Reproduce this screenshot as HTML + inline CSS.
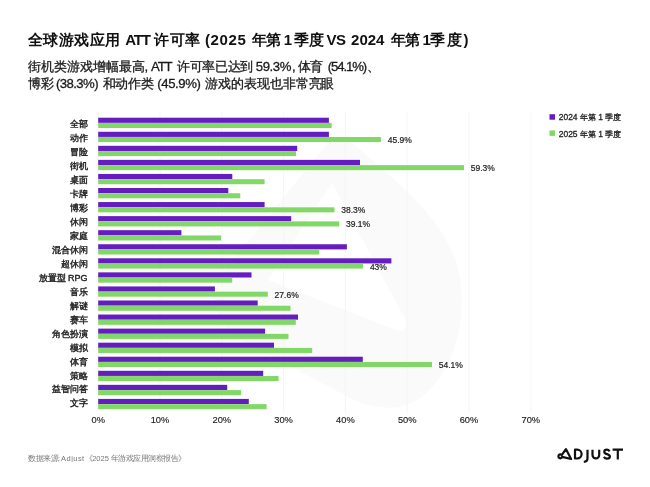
<!DOCTYPE html>
<html><head><meta charset="utf-8">
<style>
html,body{margin:0;padding:0;background:#fff;} .wrap{position:absolute;left:0;top:0;width:650px;height:487px;filter:blur(0.4px);}
body{width:650px;height:487px;overflow:hidden;position:relative;font-family:"Liberation Sans",sans-serif;color:#111;}
.t{position:absolute;left:0;top:30.3px;font-size:15px;font-weight:bold;white-space:nowrap;line-height:20px;} .t span{position:absolute;top:0;}
.s span{position:absolute;} .s{position:absolute;left:0;top:58.4px;font-size:13.15px;white-space:nowrap;line-height:17px;color:#1a1a1a;word-spacing:-1.2px;-webkit-text-stroke:0.3px #1a1a1a;}
svg{position:absolute;left:0;top:0;}
.cat{font-size:9px;fill:#222;stroke:#222;stroke-width:0.4px;}
.val{font-size:8.5px;fill:#222;stroke:#222;stroke-width:0.2px;}
.ax{font-size:9.3px;fill:#222;stroke:#222;stroke-width:0.15px;}
.leg{font-size:8.45px;fill:#222;stroke:#222;stroke-width:0.3px;}
.foot{position:absolute;left:27.7px;top:452.5px;font-size:15px;color:#777;white-space:nowrap;line-height:20px;transform:scale(0.5);transform-origin:0 0;}
</style></head><body><div class="wrap">
<svg width="650" height="487" viewBox="0 0 650 487">
<path fill-rule="evenodd" d="M322,150 C330,138 345,136 356,146 C400,185 455,225 461,285 C466,340 445,380 420,398 C400,412 375,410 350,398 L250,345 C215,328 205,300 225,270 L322,150 Z M332,183 L268,280 L396,330 C404,333 408,326 405,319 L332,183 Z" fill="#fafafa"/>
<line x1="98.20" y1="112" x2="98.20" y2="413" stroke="#f5f5f5" stroke-width="1"/>
<text x="98.20" y="423.2" class="ax" text-anchor="middle">0%</text>
<line x1="160.00" y1="112" x2="160.00" y2="413" stroke="#f5f5f5" stroke-width="1"/>
<text x="160.00" y="423.2" class="ax" text-anchor="middle">10%</text>
<line x1="221.80" y1="112" x2="221.80" y2="413" stroke="#f5f5f5" stroke-width="1"/>
<text x="221.80" y="423.2" class="ax" text-anchor="middle">20%</text>
<line x1="283.60" y1="112" x2="283.60" y2="413" stroke="#f5f5f5" stroke-width="1"/>
<text x="283.60" y="423.2" class="ax" text-anchor="middle">30%</text>
<line x1="345.40" y1="112" x2="345.40" y2="413" stroke="#f5f5f5" stroke-width="1"/>
<text x="345.40" y="423.2" class="ax" text-anchor="middle">40%</text>
<line x1="407.20" y1="112" x2="407.20" y2="413" stroke="#f5f5f5" stroke-width="1"/>
<text x="407.20" y="423.2" class="ax" text-anchor="middle">50%</text>
<line x1="469.00" y1="112" x2="469.00" y2="413" stroke="#f5f5f5" stroke-width="1"/>
<text x="469.00" y="423.2" class="ax" text-anchor="middle">60%</text>
<line x1="530.80" y1="112" x2="530.80" y2="413" stroke="#f5f5f5" stroke-width="1"/>
<text x="530.80" y="423.2" class="ax" text-anchor="middle">70%</text>
<rect x="98.2" y="117.70" width="230.70" height="5.15" fill="#661dbf"/>
<rect x="98.2" y="122.95" width="233.50" height="5.050000000000001" fill="#82d866"/>
<text x="87.6" y="127.40" class="cat" text-anchor="end">全部</text>
<rect x="98.2" y="131.76" width="230.70" height="5.15" fill="#661dbf"/>
<rect x="98.2" y="137.01" width="282.70" height="5.050000000000001" fill="#82d866"/>
<text x="87.6" y="141.35" class="cat" text-anchor="end">动作</text>
<text x="387.70" y="143.06" class="val">45.9%</text>
<rect x="98.2" y="145.82" width="199.00" height="5.15" fill="#661dbf"/>
<rect x="98.2" y="151.07" width="197.80" height="5.050000000000001" fill="#82d866"/>
<text x="87.6" y="155.30" class="cat" text-anchor="end">冒险</text>
<rect x="98.2" y="159.88" width="261.80" height="5.15" fill="#661dbf"/>
<rect x="98.2" y="165.13" width="365.80" height="5.050000000000001" fill="#82d866"/>
<text x="87.6" y="169.25" class="cat" text-anchor="end">街机</text>
<text x="470.80" y="171.18" class="val">59.3%</text>
<rect x="98.2" y="173.94" width="134.10" height="5.15" fill="#661dbf"/>
<rect x="98.2" y="179.19" width="166.40" height="5.050000000000001" fill="#82d866"/>
<text x="87.6" y="183.20" class="cat" text-anchor="end">桌面</text>
<rect x="98.2" y="188.00" width="130.10" height="5.15" fill="#661dbf"/>
<rect x="98.2" y="193.25" width="142.10" height="5.050000000000001" fill="#82d866"/>
<text x="87.6" y="197.15" class="cat" text-anchor="end">卡牌</text>
<rect x="98.2" y="202.06" width="166.40" height="5.15" fill="#661dbf"/>
<rect x="98.2" y="207.31" width="236.30" height="5.050000000000001" fill="#82d866"/>
<text x="87.6" y="211.10" class="cat" text-anchor="end">博彩</text>
<text x="341.30" y="213.36" class="val">38.3%</text>
<rect x="98.2" y="216.12" width="193.00" height="5.15" fill="#661dbf"/>
<rect x="98.2" y="221.37" width="241.00" height="5.050000000000001" fill="#82d866"/>
<text x="87.6" y="225.05" class="cat" text-anchor="end">休闲</text>
<text x="346.00" y="227.42" class="val">39.1%</text>
<rect x="98.2" y="230.18" width="83.20" height="5.15" fill="#661dbf"/>
<rect x="98.2" y="235.43" width="122.90" height="5.050000000000001" fill="#82d866"/>
<text x="87.6" y="239.00" class="cat" text-anchor="end">家庭</text>
<rect x="98.2" y="244.24" width="248.70" height="5.15" fill="#661dbf"/>
<rect x="98.2" y="249.49" width="221.00" height="5.050000000000001" fill="#82d866"/>
<text x="87.6" y="252.95" class="cat" text-anchor="end">混合休闲</text>
<rect x="98.2" y="258.30" width="293.20" height="5.15" fill="#661dbf"/>
<rect x="98.2" y="263.55" width="264.90" height="5.050000000000001" fill="#82d866"/>
<text x="87.6" y="266.90" class="cat" text-anchor="end">超休闲</text>
<text x="369.90" y="269.60" class="val">43%</text>
<rect x="98.2" y="272.36" width="153.30" height="5.15" fill="#661dbf"/>
<rect x="98.2" y="277.61" width="134.00" height="5.050000000000001" fill="#82d866"/>
<text x="87.6" y="280.85" class="cat" text-anchor="end">放置型 RPG</text>
<rect x="98.2" y="286.42" width="116.70" height="5.15" fill="#661dbf"/>
<rect x="98.2" y="291.67" width="169.60" height="5.050000000000001" fill="#82d866"/>
<text x="87.6" y="294.80" class="cat" text-anchor="end">音乐</text>
<text x="274.60" y="297.72" class="val">27.6%</text>
<rect x="98.2" y="300.48" width="159.50" height="5.15" fill="#661dbf"/>
<rect x="98.2" y="305.73" width="192.30" height="5.050000000000001" fill="#82d866"/>
<text x="87.6" y="308.75" class="cat" text-anchor="end">解谜</text>
<rect x="98.2" y="314.54" width="199.80" height="5.15" fill="#661dbf"/>
<rect x="98.2" y="319.79" width="197.60" height="5.050000000000001" fill="#82d866"/>
<text x="87.6" y="322.70" class="cat" text-anchor="end">赛车</text>
<rect x="98.2" y="328.60" width="166.90" height="5.15" fill="#661dbf"/>
<rect x="98.2" y="333.85" width="190.30" height="5.050000000000001" fill="#82d866"/>
<text x="87.6" y="336.65" class="cat" text-anchor="end">角色扮演</text>
<rect x="98.2" y="342.66" width="175.80" height="5.15" fill="#661dbf"/>
<rect x="98.2" y="347.91" width="214.00" height="5.050000000000001" fill="#82d866"/>
<text x="87.6" y="350.60" class="cat" text-anchor="end">模拟</text>
<rect x="98.2" y="356.72" width="264.60" height="5.15" fill="#661dbf"/>
<rect x="98.2" y="361.97" width="333.80" height="5.050000000000001" fill="#82d866"/>
<text x="87.6" y="364.55" class="cat" text-anchor="end">体育</text>
<text x="438.80" y="368.02" class="val">54.1%</text>
<rect x="98.2" y="370.78" width="165.00" height="5.15" fill="#661dbf"/>
<rect x="98.2" y="376.03" width="180.40" height="5.050000000000001" fill="#82d866"/>
<text x="87.6" y="378.50" class="cat" text-anchor="end">策略</text>
<rect x="98.2" y="384.84" width="129.00" height="5.15" fill="#661dbf"/>
<rect x="98.2" y="390.09" width="142.90" height="5.050000000000001" fill="#82d866"/>
<text x="87.6" y="392.45" class="cat" text-anchor="end">益智问答</text>
<rect x="98.2" y="398.90" width="150.60" height="5.15" fill="#661dbf"/>
<rect x="98.2" y="404.15" width="168.40" height="5.050000000000001" fill="#82d866"/>
<text x="87.6" y="406.40" class="cat" text-anchor="end">文字</text>
<rect x="549.5" y="114.2" width="5.5" height="5.5" fill="#661dbf"/>
<text x="558.8" y="120.4" class="leg">2024 年第 1 季度</text>
<rect x="549.5" y="130.4" width="5.5" height="5.5" fill="#82d866"/>
<text x="558.8" y="136.6" class="leg">2025 年第 1 季度</text>
<g fill="none" stroke="#111" stroke-width="2.2" stroke-linejoin="round" stroke-linecap="round"><path d="M571.1,459 L565.9,449.1 L561.7,455.1 A1.9,1.9 0 1 0 562.1,456.9 Z"/><path d="M575,449.7 V458.5 H577.2 A4.4,4.4 0 0 0 577.2,449.7 Z"/><path d="M587.5,449.7 V458.2 Q587.5,461.6 583.8,461.9" stroke-linecap="butt"/><path d="M592.5,449.7 V455.1 A3.35,3.35 0 0 0 599.2,455.1 V449.7" stroke-linecap="butt"/><path d="M609.6,451.3 C608.9,450.2 607.9,449.7 606.9,449.7 C605.3,449.7 604.3,450.6 604.3,451.9 C604.3,454.6 609.9,453.7 609.9,456.4 C609.9,457.8 608.8,458.6 607,458.6 C605.7,458.6 604.6,458 603.9,456.9" stroke-linecap="butt"/><path d="M612.6,449.7 H623 M617.8,449.7 V459.6" stroke-linecap="butt"/></g>
</svg>
<div class="t"><span style="left:28px;letter-spacing:0.45px">全球游戏应用</span><span style="left:125.2px;letter-spacing:-1.2px">ATT</span><span style="left:154.3px;letter-spacing:0.5px">许可率</span><span style="left:205px;letter-spacing:0.6px">(2025</span><span style="left:251.5px;letter-spacing:-0.3px">年第</span><span style="left:283.8px;letter-spacing:0px">1</span><span style="left:294px;letter-spacing:0px">季度</span><span style="left:326.5px;letter-spacing:-0.6px">VS</span><span style="left:351.1px;letter-spacing:0px">2024</span><span style="left:390.6px;letter-spacing:-0.3px">年第</span><span style="left:422.6px;letter-spacing:0px">1</span><span style="left:430.4px;letter-spacing:1.5px">季度)</span></div>
<div class="s"><span style="left:28px;top:0;letter-spacing:0px">街机类游戏增幅最高</span><span style="left:144.5px;top:0;letter-spacing:0px">,</span><span style="left:151.1px;top:0;letter-spacing:-1.2px">ATT</span><span style="left:176.9px;top:0;letter-spacing:-0.28px">许可率已达到</span><span style="left:255.8px;top:0;letter-spacing:-0.4px">59.3%</span><span style="left:292.1px;top:0;letter-spacing:0px">,</span><span style="left:298.3px;top:0;letter-spacing:-1px">体育</span><span style="left:327.8px;top:0;letter-spacing:-1.1px">(54.1%)</span><span style="left:367.2px;top:0;letter-spacing:0px">、</span><span style="left:28px;top:17px;letter-spacing:0px">博彩</span><span style="left:55.9px;top:17px;letter-spacing:-0.55px">(38.3%)</span><span style="left:102.6px;top:17px;letter-spacing:-0.3px">和动作类</span><span style="left:157.3px;top:17px;letter-spacing:-0.4px">(45.9%)</span><span style="left:205.4px;top:17px;letter-spacing:-0.1px">游戏的表现也非常亮眼</span></div>
<div class="foot">数据来源<span style="letter-spacing:2px">:</span><span style="letter-spacing:0.9px">Adjust</span>《2025 年游戏应用洞察报告》</div>
</div></body></html>
